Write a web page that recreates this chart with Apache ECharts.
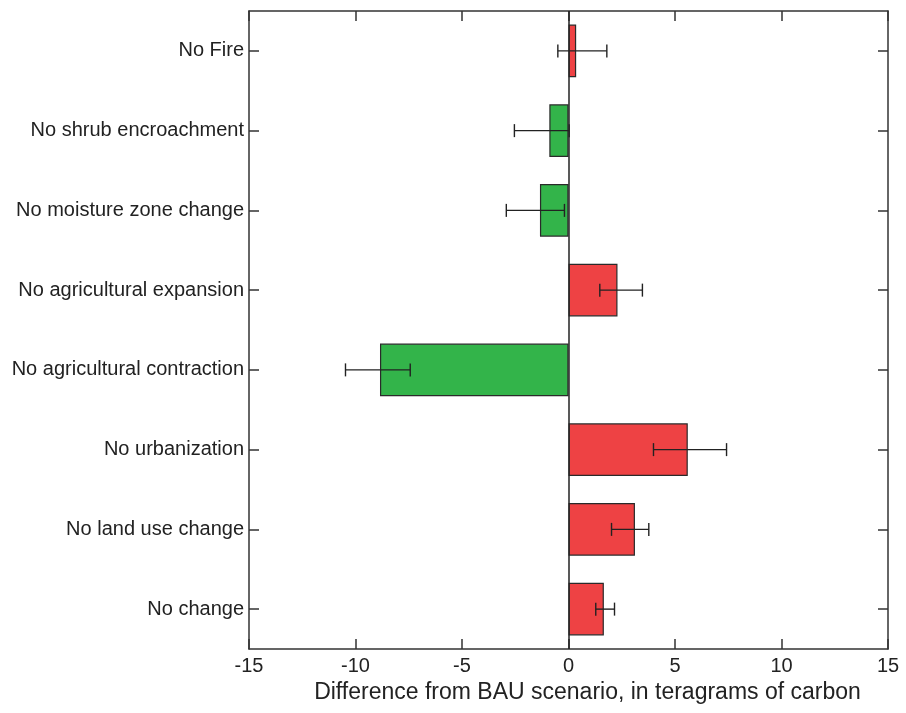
<!DOCTYPE html>
<html>
<head>
<meta charset="utf-8">
<script src="https://cdn.jsdelivr.net/npm/echarts@6/dist/echarts.min.js"></script>
<style>
html,body{margin:0;padding:0;background:#fff;}
#chart{width:906px;height:713px;}
</style>
</head>
<body>
<div id="chart"></div>
<script>
// Categories listed bottom to top (category axis order)
const categories = ["No change", "No land use change", "No urbanization", "No agricultural contraction", "No agricultural expansion", "No moisture zone change", "No shrub encroachment", "No Fire"];
const values = [1.66, 3.12, 5.6, -8.85, 2.3, -1.34, -0.9, 0.36];
const errLow = [1.28, 2.02, 3.99, -10.47, 1.47, -2.92, -2.54, -0.5];
const errHigh = [2.16, 3.77, 7.42, -7.43, 3.47, -0.19, 0.03, 1.8];
const xTicks = [-15, -10, -5, 0, 5, 10, 15];
const xTitle = "Difference from BAU scenario, in teragrams of carbon";

const FONT = "'Liberation Sans Narrow', 'Arial Narrow', 'Liberation Sans', Arial, sans-serif";
const RED = '#ee4244';
const GREEN = '#33b44a';
const AXIS = '#333333';

const chart = echarts.init(document.getElementById('chart'), null, {renderer: 'canvas'});

const barData = values.map((v) => ({
  value: v,
  itemStyle: {color: v >= 0 ? RED : GREEN}
}));
const errData = categories.map((c, i) => [errLow[i], errHigh[i], i]);

chart.setOption({
  animation: false,
  backgroundColor: '#ffffff',
  grid: {left: 249, right: 18, top: 11, bottom: 64, containLabel: false, outerBoundsMode: 'none'},
  xAxis: [{
    type: 'value', min: -15, max: 15, interval: 5, position: 'bottom',
    axisLine: {show: true, onZero: false, lineStyle: {color: AXIS, width: 1.5}},
    axisTick: {show: true, inside: true, length: 10, lineStyle: {color: AXIS, width: 1.5}},
    axisLabel: {color: '#222', fontFamily: FONT, fontSize: 20, margin: 7,
      formatter: (v) => xTicks.includes(v) ? String(v) : ''},
    splitLine: {show: false},
    name: xTitle, nameLocation: 'middle', nameGap: 22,
    nameTextStyle: {color: '#222', fontFamily: FONT, fontSize: 23, verticalAlign: 'top', padding: [0, 0, 0, 38]}
  }, {
    type: 'value', min: -15, max: 15, interval: 5, position: 'top',
    axisLine: {show: true, onZero: false, lineStyle: {color: AXIS, width: 1.5}},
    axisTick: {show: true, inside: true, length: 10, lineStyle: {color: AXIS, width: 1.5}},
    axisLabel: {show: false}, splitLine: {show: false}
  }],
  yAxis: [{
    type: 'category', data: categories, position: 'left',
    axisLine: {show: true, onZero: false, lineStyle: {color: AXIS, width: 1.5}},
    axisTick: {show: true, inside: true, length: 10, alignWithLabel: true, lineStyle: {color: AXIS, width: 1.5}},
    axisLabel: {color: '#222', fontFamily: FONT, fontSize: 20, margin: 5},
    splitLine: {show: false}
  }, {
    type: 'category', data: categories, position: 'right',
    axisLine: {show: true, onZero: false, lineStyle: {color: AXIS, width: 1.5}},
    axisTick: {show: true, inside: true, length: 10, alignWithLabel: true, lineStyle: {color: AXIS, width: 1.5}},
    axisLabel: {show: false}, splitLine: {show: false}
  }],
  series: [{
    type: 'bar', xAxisIndex: 0, yAxisIndex: 0,
    data: barData, barWidth: '66%',
    itemStyle: {borderColor: '#2a2a2a', borderWidth: 1.2},
    z: 2
  }, {
    type: 'custom', xAxisIndex: 0, yAxisIndex: 0,
    data: errData,
    encode: {x: [0, 1], y: 2},
    renderItem: function (params, api) {
      const lo = api.coord([api.value(0), api.value(2)]);
      const hi = api.coord([api.value(1), api.value(2)]);
      const h = 6.5;
      const st = {stroke: '#222', lineWidth: 1.4};
      return {
        type: 'group',
        children: [
          {type: 'line', shape: {x1: lo[0], y1: lo[1], x2: hi[0], y2: hi[1]}, style: st},
          {type: 'line', shape: {x1: lo[0], y1: lo[1] - h, x2: lo[0], y2: lo[1] + h}, style: st},
          {type: 'line', shape: {x1: hi[0], y1: hi[1] - h, x2: hi[0], y2: hi[1] + h}, style: st}
        ]
      };
    },
    z: 5
  }, {
    // zero reference line
    type: 'line', xAxisIndex: 0, yAxisIndex: 0, data: [],
    markLine: {
      silent: true, symbol: 'none', label: {show: false},
      lineStyle: {color: '#222', width: 1.5, type: 'solid'},
      data: [{xAxis: 0}]
    },
    z: 6
  }]
});
</script>
</body>
</html>
